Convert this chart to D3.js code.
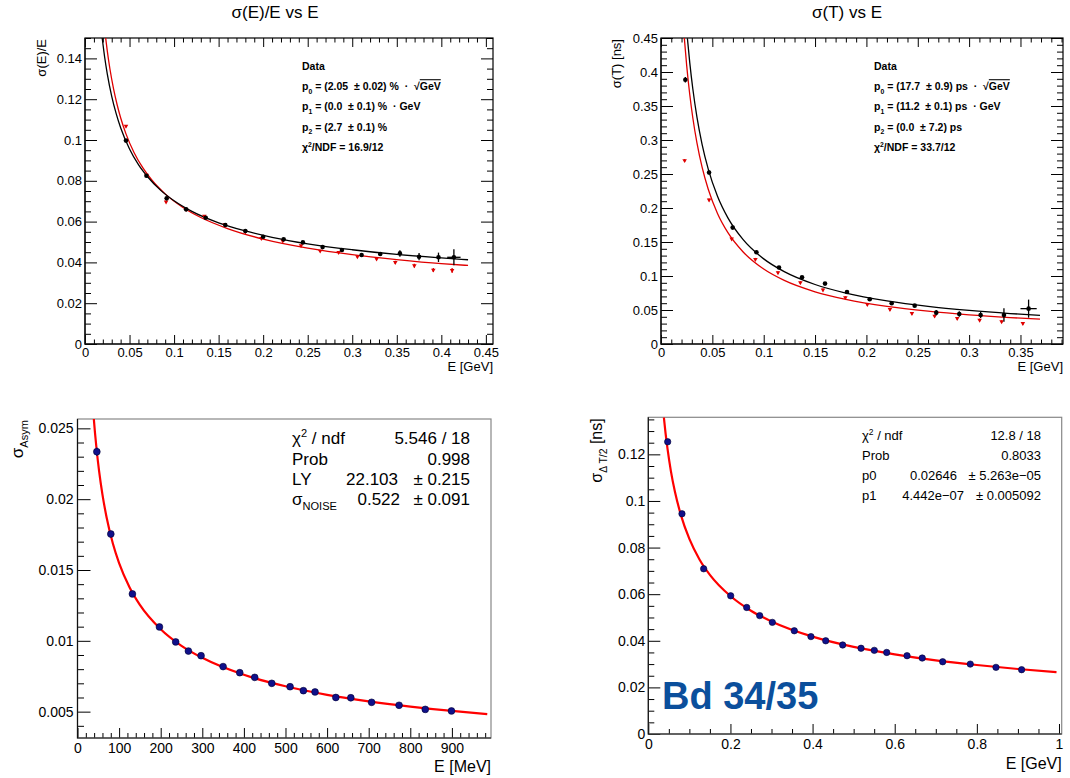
<!DOCTYPE html>
<html>
<head>
<meta charset="utf-8">
<script src="https://cdn.jsdelivr.net/npm/d3@7"></script>
<style>
  body { margin: 0; background: #fff; }
  svg { display: block; }
  text { font-family: 'Liberation Sans', Arial, Helvetica, sans-serif; white-space: pre; }
</style>
</head>
<body>
<svg id="chart" width="1070" height="778"></svg>
<script>
(() => {
'use strict';

// ---- top-left: sigma(E)/E vs E ----
const eResBlackE = [0.046, 0.069, 0.0917, 0.1135, 0.1355, 0.1575, 0.180, 0.200, 0.223, 0.2446, 0.2667, 0.2884, 0.3105, 0.3314, 0.3535, 0.375, 0.3968, 0.4141];
const eResBlackY = [0.0997, 0.0825, 0.0714, 0.0660, 0.0619, 0.0583, 0.0554, 0.0526, 0.0513, 0.0498, 0.0475, 0.0461, 0.0436, 0.0441, 0.0444, 0.0428, 0.0425, 0.0425];
const eResBlackErr = [0.0005, 0.0005, 0.0005, 0.0005, 0.0005, 0.0005, 0.0005, 0.0005, 0.0005, 0.0005, 0.0006, 0.0007, 0.0008, 0.001, 0.0016, 0.0018, 0.0023, 0.0039];
const eResBlackXErr = [0, 0, 0, 0, 0, 0, 0, 0, 0, 0, 0, 0, 0, 0, 0, 0, 0, 0.0075];
const eResRedE = [0.046, 0.069, 0.091, 0.1135, 0.134, 0.157, 0.180, 0.198, 0.222, 0.2425, 0.264, 0.2847, 0.3058, 0.3273, 0.3483, 0.3697, 0.391, 0.4121];
const eResRedY = [0.1068, 0.0828, 0.0697, 0.0660, 0.0627, 0.0585, 0.0550, 0.0518, 0.0505, 0.0482, 0.0456, 0.0449, 0.0428, 0.0417, 0.0400, 0.0384, 0.0363, 0.0361];
const eResRedErr = [0.0005, 0.0005, 0.0005, 0.0005, 0.0005, 0.0005, 0.0005, 0.0005, 0.0005, 0.0005, 0.0005, 0.0005, 0.0006, 0.0006, 0.0008, 0.0009, 0.001, 0.0012];
const eResFitBlackE = [0.0193, 0.022, 0.025, 0.03, 0.035, 0.04, 0.05, 0.06, 0.07, 0.085, 0.1, 0.12, 0.15, 0.18, 0.21, 0.25, 0.3, 0.35, 0.4, 0.43];
const eResFitBlackY = [0.1500, 0.1408, 0.1324, 0.1214, 0.1129, 0.1060, 0.0956, 0.0879, 0.0821, 0.0753, 0.0702, 0.0650, 0.0594, 0.0554, 0.0523, 0.0491, 0.0462, 0.0439, 0.0422, 0.0413];
const eResFitRedE = [0.0232, 0.025, 0.028, 0.032, 0.036, 0.04, 0.046, 0.055, 0.065, 0.075, 0.09, 0.11, 0.13, 0.16, 0.2, 0.25, 0.3, 0.35, 0.4, 0.43];
const eResFitRedY = [0.1500, 0.1437, 0.1348, 0.1252, 0.1174, 0.1109, 0.1030, 0.0939, 0.0863, 0.0804, 0.0736, 0.0669, 0.0620, 0.0566, 0.0514, 0.0470, 0.0438, 0.0414, 0.0394, 0.0385];
const eResXTicks = [0, 0.05, 0.1, 0.15, 0.2, 0.25, 0.3, 0.35, 0.4, 0.45];
const eResXLabels = ['0', '0.05', '0.1', '0.15', '0.2', '0.25', '0.3', '0.35', '0.4', '0.45'];
const eResYTicks = [0, 0.02, 0.04, 0.06, 0.08, 0.1, 0.12, 0.14];
const eResYLabels = ['0', '0.02', '0.04', '0.06', '0.08', '0.1', '0.12', '0.14'];
const eResStats = [
  [['Data']],
  [['p'], ['0', 'sub'], [' = (2.05  \u00b1 0.02) %  \u00b7  '], ['\u221a'], ['GeV', 'over']],
  [['p'], ['1', 'sub'], [' = (0.0  \u00b1 0.1) %  \u00b7 GeV']],
  [['p'], ['2', 'sub'], [' = (2.7  \u00b1 0.1) %']],
  [['\u03c7'], ['2', 'sup'], ['/NDF = 16.9/12']]
];

// ---- top-right: sigma(T) vs E ----
const tResBlackE = [0.0237, 0.0468, 0.0698, 0.0929, 0.1149, 0.1373, 0.1597, 0.1811, 0.2032, 0.2246, 0.2470, 0.2680, 0.2904, 0.3112, 0.3339, 0.3579];
const tResBlackY = [0.3886, 0.2522, 0.1712, 0.1349, 0.1124, 0.0981, 0.0888, 0.0765, 0.0657, 0.0599, 0.0564, 0.0461, 0.0442, 0.0427, 0.0427, 0.0520];
const tResBlackErr = [0.004, 0.003, 0.002, 0.002, 0.002, 0.002, 0.002, 0.002, 0.002, 0.002, 0.002, 0.004, 0.004, 0.0045, 0.0098, 0.0133];
const tResBlackXErr = [0, 0, 0, 0, 0, 0, 0, 0, 0, 0, 0, 0, 0, 0, 0, 0.0079];
const tResRedE = [0.023, 0.0468, 0.0688, 0.0919, 0.1139, 0.1357, 0.1577, 0.1795, 0.2009, 0.2229, 0.2443, 0.2664, 0.2884, 0.3102, 0.3316, 0.3523];
const tResRedY = [0.2699, 0.2120, 0.1546, 0.1246, 0.1050, 0.0903, 0.0795, 0.0682, 0.0584, 0.0510, 0.0451, 0.0412, 0.0378, 0.0353, 0.0329, 0.0304];
const tResRedErr = [0.002, 0.002, 0.002, 0.002, 0.002, 0.002, 0.002, 0.002, 0.002, 0.002, 0.002, 0.002, 0.002, 0.002, 0.002, 0.002];
const tResFitBlackE = [0.0257, 0.028, 0.031, 0.035, 0.04, 0.046, 0.055, 0.065, 0.08, 0.1, 0.12, 0.15, 0.18, 0.22, 0.26, 0.3, 0.34, 0.369];
const tResFitBlackY = [0.4496, 0.4137, 0.3750, 0.3337, 0.2937, 0.2571, 0.2172, 0.1858, 0.1534, 0.1252, 0.1064, 0.0875, 0.0749, 0.0634, 0.0553, 0.0494, 0.0448, 0.0421];
const tResFitRedE = [0.0227, 0.025, 0.028, 0.031, 0.035, 0.04, 0.046, 0.055, 0.065, 0.08, 0.1, 0.12, 0.15, 0.18, 0.22, 0.26, 0.3, 0.34, 0.369];
const tResFitRedY = [0.4500, 0.4096, 0.3669, 0.3324, 0.2957, 0.2600, 0.2275, 0.1920, 0.1641, 0.1353, 0.1102, 0.0935, 0.0768, 0.0656, 0.0553, 0.0482, 0.0429, 0.0389, 0.0365];
const tResXTicks = [0, 0.05, 0.1, 0.15, 0.2, 0.25, 0.3, 0.35];
const tResXLabels = ['0', '0.05', '0.1', '0.15', '0.2', '0.25', '0.3', '0.35'];
const tResYTicks = [0, 0.05, 0.1, 0.15, 0.2, 0.25, 0.3, 0.35, 0.4, 0.45];
const tResYLabels = ['0', '0.05', '0.1', '0.15', '0.2', '0.25', '0.3', '0.35', '0.4', '0.45'];
const tResStats = [
  [['Data']],
  [['p'], ['0', 'sub'], [' = (17.7  \u00b1 0.9) ps  \u00b7  '], ['\u221a'], ['GeV', 'over']],
  [['p'], ['1', 'sub'], [' = (11.2  \u00b1 0.1) ps  \u00b7 GeV']],
  [['p'], ['2', 'sub'], [' = (0.0  \u00b1 7.2) ps']],
  [['\u03c7'], ['2', 'sup'], ['/NDF = 33.7/12']]
];

// ---- bottom-left: sigma_Asym vs E [MeV] ----
const asymE = [46.5, 80.1, 132, 197, 236, 266.6, 297, 350, 390, 426, 467, 511, 543, 571, 621, 657, 707, 773, 836, 899];
const asymY = [0.02335, 0.01754, 0.01331, 0.01098, 0.00992, 0.00928, 0.00895, 0.00818, 0.00775, 0.00742, 0.00700, 0.00676, 0.00648, 0.00639, 0.00600, 0.00598, 0.00566, 0.00545, 0.00516, 0.00505];
const asymErr = [0.0003, 0.0002, 0.0001, 0.0001, 0.0001, 0.0001, 0.0001, 0.0001, 0.0001, 0.0001, 0.0001, 0.0001, 0.0001, 0.0001, 0.0001, 0.0001, 0.0001, 0.0001, 0.0001, 0.0001];
const asymFitE = [39, 42, 46, 52, 60, 70, 85, 100, 125, 150, 200, 250, 300, 400, 500, 600, 700, 800, 900, 985];
const asymFitY = [0.02574, 0.02470, 0.02349, 0.02196, 0.02032, 0.01871, 0.01687, 0.01549, 0.01379, 0.01254, 0.01082, 0.00965, 0.00880, 0.00760, 0.00679, 0.00619, 0.00573, 0.00536, 0.00505, 0.00483];
const asymXTicks = [0, 100, 200, 300, 400, 500, 600, 700, 800, 900];
const asymXLabels = ['0', '100', '200', '300', '400', '500', '600', '700', '800', '900'];
const asymYTicks = [0.005, 0.01, 0.015, 0.02, 0.025];
const asymYLabels = ['0.005', '0.01', '0.015', '0.02', '0.025'];

// ---- bottom-right: sigma_dT/2 vs E [GeV] ----
const dtE = [0.0472, 0.082, 0.1348, 0.2006, 0.2396, 0.2712, 0.302, 0.3555, 0.396, 0.432, 0.4733, 0.518, 0.5503, 0.5805, 0.630, 0.667, 0.7168, 0.784, 0.8466, 0.909];
const dtY = [0.1254, 0.0945, 0.0709, 0.0593, 0.0543, 0.0508, 0.0479, 0.0443, 0.0418, 0.0400, 0.0382, 0.0368, 0.0359, 0.0350, 0.0336, 0.0326, 0.0310, 0.0300, 0.0286, 0.0276];
const dtFitE = [0.0379, 0.042, 0.047, 0.055, 0.065, 0.08, 0.1, 0.125, 0.15, 0.2, 0.25, 0.3, 0.4, 0.5, 0.6, 0.7, 0.8, 0.9, 0.994];
const dtFitY = [0.1359, 0.1291, 0.1221, 0.1128, 0.1038, 0.0936, 0.0837, 0.0748, 0.0683, 0.0592, 0.0529, 0.0483, 0.0418, 0.0374, 0.0342, 0.0316, 0.0296, 0.0279, 0.0265];
const dtXTicks = [0, 0.2, 0.4, 0.6, 0.8, 1];
const dtXLabels = ['0', '0.2', '0.4', '0.6', '0.8', '1'];
const dtYTicks = [0, 0.02, 0.04, 0.06, 0.08, 0.1, 0.12];
const dtYLabels = ['0', '0.02', '0.04', '0.06', '0.08', '0.1', '0.12'];

const FONT = "'Liberation Sans', Arial, Helvetica, sans-serif";
const RED = '#e00000';
const NAVY = '#10108a';
const svg = d3.select('#chart');

// text with sub/superscripts; parts = [[text, kind]]
const rich = (text, parts, fs) => {
  let shift = 0;
  parts.forEach(([t, kind]) => {
    const target = kind === 'sub' ? 0.32 * fs : kind === 'sup' ? -0.4 * fs : 0;
    const ts = text.append('tspan').attr('dy', target - shift).text(t);
    if (kind === 'sub' || kind === 'sup') ts.attr('font-size', fs * 0.65);
    if (kind === 'over') ts.style('text-decoration', 'overline');
    shift = target;
  });
  return text;
};

const addAxis = (g, gen, tr, values, size, fmt, pad, fs) => {
  const a = g.append('g')
    .attr('transform', tr)
    .call(gen.tickValues(values).tickSizeInner(-size).tickSizeOuter(0).tickPadding(pad).tickFormat(fmt));
  a.attr('font-family', FONT).attr('font-size', fs);
  a.select('.domain').remove();
  a.selectAll('line').attr('stroke', '#000');
  a.selectAll('text').attr('fill', '#000');
  return a;
};

const minors = (dom, step, majors) => d3.range(Math.ceil(dom[0] / step - 1e-6), Math.floor(dom[1] / step + 1e-6) + 1)
  .map((k) => +(k * step).toFixed(6))
  .filter((v) => !majors.some((m) => Math.abs(m - v) < 1e-9));

let clipCount = 0;
const makePanel = (o) => {
  const x = d3.scaleLinear().domain(o.xDom).range([o.left, o.right]);
  const y = d3.scaleLinear().domain(o.yDom).range([o.bottom, o.top]);
  const g = svg.append('g');
  const id = `clip-${clipCount++}`;
  g.append('clipPath').attr('id', id).append('rect')
    .attr('x', o.left).attr('y', o.top).attr('width', o.right - o.left).attr('height', o.bottom - o.top);

  const xl = (d) => o.xLabels[o.xTicks.indexOf(d)];
  const yl = (d) => o.yLabels[o.yTicks.indexOf(d)];
  const xMin = minors(o.xDom, o.xMinor, o.xTicks);
  const yMin = minors(o.yDom, o.yMinor, o.yTicks);

  addAxis(g, d3.axisBottom(x), `translate(0,${o.bottom})`, o.xTicks, o.xTick, xl, o.xPad, o.fs);
  addAxis(g, d3.axisBottom(x), `translate(0,${o.bottom})`, xMin, o.xTick / 2, '', 0, o.fs);
  addAxis(g, d3.axisLeft(y), `translate(${o.left},0)`, o.yTicks, o.yTick, yl, o.yPad, o.fs);
  addAxis(g, d3.axisLeft(y), `translate(${o.left},0)`, yMin, o.yTick / 2, '', 0, o.fs);
  if (o.mirror) {
    addAxis(g, d3.axisTop(x), `translate(0,${o.top})`, o.xTicks, o.xTick, '', 0, o.fs);
    addAxis(g, d3.axisTop(x), `translate(0,${o.top})`, xMin, o.xTick / 2, '', 0, o.fs);
    addAxis(g, d3.axisRight(y), `translate(${o.right},0)`, o.yTicks, o.yTick, '', 0, o.fs);
    addAxis(g, d3.axisRight(y), `translate(${o.right},0)`, yMin, o.yTick / 2, '', 0, o.fs);
  }

  g.append('rect')
    .attr('x', o.left).attr('y', o.top)
    .attr('width', o.right - o.left).attr('height', o.bottom - o.top)
    .attr('fill', 'none').attr('stroke', o.frame).attr('stroke-width', 1.2);
  g.append('path')
    .attr('d', `M${o.left},${o.top}V${o.bottom}H${o.right}`)
    .attr('fill', 'none').attr('stroke', '#111').attr('stroke-width', 1.2);

  // axis titles
  g.append('text')
    .attr('x', o.right).attr('y', o.xTitleY)
    .attr('text-anchor', 'end').attr('font-size', o.titleFs)
    .text(o.xTitle);
  rich(g.append('text')
    .attr('transform', `translate(${o.yTitleX},${o.top + 1}) rotate(-90)`)
    .attr('text-anchor', 'end').attr('font-size', o.yTitleFs), o.yTitle, o.yTitleFs);

  return { g, x, y, plot: g.append('g').attr('clip-path', `url(#${id})`) };
};

const drawCurve = (p, xs, ys, color, width) => {
  p.plot.append('path')
    .datum(d3.zip(xs, ys))
    .attr('fill', 'none').attr('stroke', color).attr('stroke-width', width)
    .attr('d', d3.line().x((d) => p.x(d[0])).y((d) => p.y(d[1])).curve(d3.curveMonotoneX));
};

const drawPoints = (p, xs, ys, errs, xerrs, color, shape, r) => {
  const data = d3.zip(xs, ys, errs || xs.map(() => 0), xerrs || xs.map(() => 0));
  const pts = p.plot.append('g');
  pts.selectAll('line.ey').data(data).enter().append('line')
    .attr('x1', (d) => p.x(d[0])).attr('x2', (d) => p.x(d[0]))
    .attr('y1', (d) => p.y(d[1] - d[2])).attr('y2', (d) => p.y(d[1] + d[2]))
    .attr('stroke', color).attr('stroke-width', 1.3);
  pts.selectAll('line.ex').data(data.filter((d) => d[3] > 0)).enter().append('line')
    .attr('x1', (d) => p.x(d[0] - d[3])).attr('x2', (d) => p.x(d[0] + d[3]))
    .attr('y1', (d) => p.y(d[1])).attr('y2', (d) => p.y(d[1]))
    .attr('stroke', color).attr('stroke-width', 1.3);
  if (shape === 'tri') {
    pts.selectAll('path.m').data(data).enter().append('path')
      .attr('d', d3.symbol(d3.symbolTriangle, r))
      .attr('transform', (d) => `translate(${p.x(d[0])},${p.y(d[1])}) rotate(180)`)
      .attr('fill', color);
  } else {
    pts.selectAll('circle').data(data).enter().append('circle')
      .attr('cx', (d) => p.x(d[0])).attr('cy', (d) => p.y(d[1]))
      .attr('r', r).attr('fill', color)
      .attr('stroke', shape === 'navy' ? '#000033' : 'none').attr('stroke-width', 0.6);
  }
};

const statsBlock = (x, y0, dy, rows, fs, bold) => {
  rows.forEach((parts, i) => {
    rich(svg.append('text')
      .attr('x', x).attr('y', y0 + i * dy)
      .attr('font-size', fs).attr('font-weight', bold ? 'bold' : 'normal'), parts, fs);
  });
};

const cell = (x, y, parts, fs, anchor) => rich(svg.append('text')
  .attr('x', x).attr('y', y).attr('font-size', fs).attr('text-anchor', anchor || 'start'), parts, fs);

// ---------- panel 1 ----------
const p1 = makePanel({
  left: 85, right: 493, top: 38, bottom: 344,
  xDom: [0, 0.458], yDom: [0, 0.15],
  xTicks: eResXTicks, xLabels: eResXLabels, yTicks: eResYTicks, yLabels: eResYLabels,
  xMinor: 0.01, yMinor: 0.005, xTick: 9, yTick: 12, xPad: 4, yPad: 3, fs: 13,
  mirror: true, frame: '#000',
  xTitle: 'E [GeV]', xTitleY: 371, titleFs: 13,
  yTitle: [['\u03c3(E)/E']], yTitleX: 46, yTitleFs: 13
});
drawCurve(p1, eResFitRedE, eResFitRedY, RED, 1.3);
drawCurve(p1, eResFitBlackE, eResFitBlackY, '#000', 1.3);
drawPoints(p1, eResRedE, eResRedY, eResRedErr, null, RED, 'tri', 9);
drawPoints(p1, eResBlackE, eResBlackY, eResBlackErr, eResBlackXErr, '#000', 'dot', 2.3);
statsBlock(302, 70, 20.2, eResStats, 10.5, true);
svg.append('text').attr('x', 275).attr('y', 18).attr('text-anchor', 'middle')
  .attr('font-size', 17).text('\u03c3(E)/E vs E');

// ---------- panel 2 ----------
const p2 = makePanel({
  left: 661, right: 1063, top: 38, bottom: 344,
  xDom: [0, 0.3914], yDom: [0, 0.45],
  xTicks: tResXTicks, xLabels: tResXLabels, yTicks: tResYTicks, yLabels: tResYLabels,
  xMinor: 0.01, yMinor: 0.01, xTick: 9, yTick: 12, xPad: 4, yPad: 3, fs: 13,
  mirror: true, frame: '#000',
  xTitle: 'E [GeV]', xTitleY: 371, titleFs: 13,
  yTitle: [['\u03c3(T) [ns]']], yTitleX: 621, yTitleFs: 13
});
drawCurve(p2, tResFitRedE, tResFitRedY, RED, 1.3);
drawCurve(p2, tResFitBlackE, tResFitBlackY, '#000', 1.3);
drawPoints(p2, tResRedE, tResRedY, tResRedErr, null, RED, 'tri', 9);
drawPoints(p2, tResBlackE, tResBlackY, tResBlackErr, tResBlackXErr, '#000', 'dot', 2.3);
statsBlock(874, 70, 20.2, tResStats, 10.5, true);
svg.append('text').attr('x', 847).attr('y', 18).attr('text-anchor', 'middle')
  .attr('font-size', 17).text('\u03c3(T) vs E');

// ---------- panel 3 ----------
const p3 = makePanel({
  left: 77.5, right: 491, top: 419, bottom: 738,
  xDom: [0, 994], yDom: [0.00314, 0.02566],
  xTicks: asymXTicks, xLabels: asymXLabels, yTicks: asymYTicks, yLabels: asymYLabels,
  xMinor: 20, yMinor: 0.001, xTick: 10, yTick: 13, xPad: 5, yPad: 4, fs: 14,
  mirror: false, frame: '#888',
  xTitle: 'E [MeV]', xTitleY: 772, titleFs: 16,
  yTitle: [['\u03c3'], ['Asym', 'sub']], yTitleX: 23, yTitleFs: 17
});
drawCurve(p3, asymFitE, asymFitY, '#ff0000', 2.2);
drawPoints(p3, asymE, asymY, asymErr, null, NAVY, 'navy', 3.4);
cell(292, 444, [['\u03c7'], ['2', 'sup'], [' / ndf']], 17);
cell(470, 444, [['5.546 / 18']], 17, 'end');
cell(292, 465, [['Prob']], 17);
cell(470, 465, [['0.998']], 17, 'end');
cell(292, 485, [['LY']], 17);
cell(398, 485, [['22.103']], 17, 'end');
cell(470, 485, [['\u00b1 0.215']], 17, 'end');
cell(292, 505, [['\u03c3'], ['NOISE', 'sub']], 17);
cell(400, 505, [['0.522']], 17, 'end');
cell(470, 505, [['\u00b1 0.091']], 17, 'end');

// ---------- panel 4 ----------
const p4 = makePanel({
  left: 648.3, right: 1061.7, top: 417.3, bottom: 734,
  xDom: [0, 1.0066], yDom: [0, 0.1359],
  xTicks: dtXTicks, xLabels: dtXLabels, yTicks: dtYTicks, yLabels: dtYLabels,
  xMinor: 0.05, yMinor: 0.005, xTick: 10, yTick: 12, xPad: 5, yPad: 3, fs: 14,
  mirror: false, frame: '#888',
  xTitle: 'E [GeV]', xTitleY: 769, titleFs: 16,
  yTitle: [['\u03c3'], ['\u0394 T/2', 'sub'], [' [ns]']], yTitleX: 602, yTitleFs: 16
});
drawCurve(p4, dtFitE, dtFitY, '#ff0000', 2.2);
drawPoints(p4, dtE, dtY, null, null, NAVY, 'navy', 3.2);
cell(862, 440, [['\u03c7'], ['2', 'sup'], [' / ndf']], 13);
cell(1041, 440, [['12.8 / 18']], 13, 'end');
cell(862, 460, [['Prob']], 13);
cell(1041, 460, [['0.8033']], 13, 'end');
cell(862, 480, [['p0']], 13);
cell(957, 480, [['0.02646']], 13, 'end');
cell(1041, 480, [['\u00b1 5.263e\u221205']], 13, 'end');
cell(862, 500, [['p1']], 13);
cell(964, 500, [['4.442e\u221207']], 13, 'end');
cell(1041, 500, [['\u00b1 0.005092']], 13, 'end');

svg.append('text').attr('x', 662).attr('y', 709)
  .attr('font-size', 38).attr('font-weight', 'bold').attr('fill', '#0b4f9c')
  .text('Bd 34/35');

})();
</script>
</body>
</html>
